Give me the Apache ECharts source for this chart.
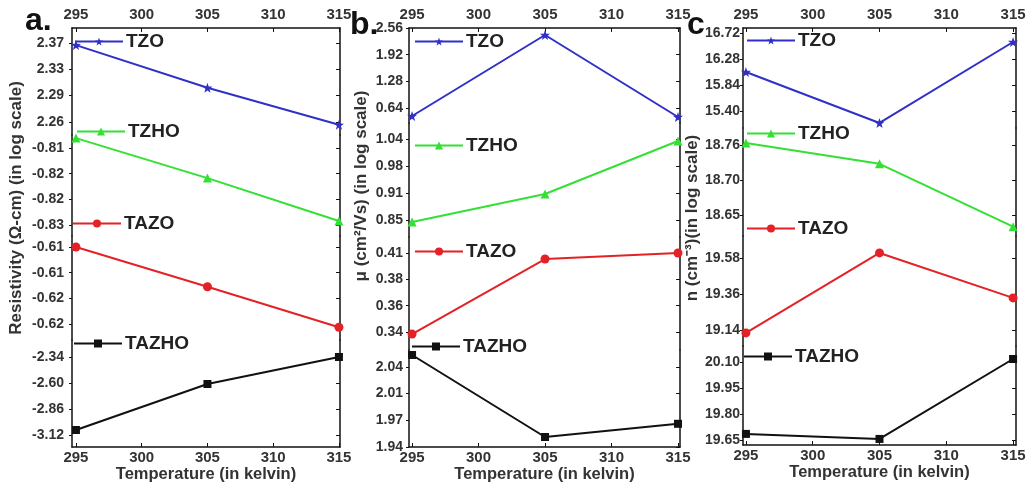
<!DOCTYPE html>
<html>
<head>
<meta charset="utf-8">
<script src="https://cdn.jsdelivr.net/npm/echarts@6/dist/echarts.min.js"></script>
<style>
  html, body { margin: 0; padding: 0; background: #fff; }
  #chart { width: 1026px; height: 485px; }
</style>
</head>
<body>
<div id="chart"></div>
<script>
const temps = [295, 305, 315];
const xTicks = [295, 300, 305, 310, 315];
const names = ['TZO', 'TZHO', 'TAZO', 'TAZHO'];

// a. resistivity (log)
const rhoTZO = [2.365, 2.305, 2.253];
const rhoTZHO = [-0.8100, -0.8181, -0.8268];
const rhoTAZO = [-0.6082, -0.6144, -0.6207];
const rhoTAZHO = [-3.07, -2.61, -2.34];
const rhoTicksTZO = [2.368, 2.331, 2.294, 2.257];
const rhoTicksTZHO = [-0.812, -0.8172, -0.8224, -0.8276];
const rhoTicksTAZO = [-0.6082, -0.6122, -0.6162, -0.6202];
const rhoTicksTAZHO = [-2.34, -2.60, -2.86, -3.12];

// b. mobility (log)
const muTZO = [0.448, 2.392, 0.424];
const muTZHO = [0.8453, 0.911, 1.0353];
const muTAZO = [0.3383, 0.401, 0.406];
const muTAZHO = [2.055, 1.9525, 1.969];
const muTicksTZO = [2.56, 1.92, 1.28, 0.64];
const muTicksTZHO = [1.04, 0.9767, 0.9133, 0.85];
const muTicksTAZO = [0.406, 0.384, 0.362, 0.340];
const muTicksTAZHO = [2.04, 2.0067, 1.9733, 1.94];

// c. carrier concentration (log)
const nTZO = [16.060, 15.197, 16.568];
const nTZHO = [18.761, 18.729, 18.632];
const nTAZO = [19.122, 19.611, 19.336];
const nTAZHO = [19.685, 19.656, 20.117];
const nTicksTZO = [16.72, 16.28, 15.84, 15.40];
const nTicksTZHO = [18.758, 18.704, 18.650];
const nTicksTAZO = [19.58, 19.36, 19.14];
const nTicksTAZHO = [20.10, 19.95, 19.80, 19.65];

const colors = ['#3030c8', '#33e033', '#e42126', '#111111'];
const star = 'path://M0,-10L2.35,-3.24L9.51,-3.09L3.8,1.24L5.88,8.09L0,4L-5.88,8.09L-3.8,1.24L-9.51,-3.09L-2.35,-3.24Z';
const symbols = [star, 'triangle', 'circle', 'rect'];
const symbolSizes = [10, 9, 9, 8];
const FONT = 'Liberation Sans';

const panels = [
  {
    tag: 'a.', tagX: 20, tagY: 0, left: 72, right: 340, xMin: 294.7, xMax: 315.08,
    edges: [28, 135, 236, 340, 447], labelMargin: 8,
    ranges: [[2.2387, 2.389], [-0.82983, -0.80937], [-0.62269, -0.60649], [-3.24, -2.17]],
    values: [rhoTZO, rhoTZHO, rhoTAZO, rhoTAZHO],
    ticks: [rhoTicksTZO, rhoTicksTZHO, rhoTicksTAZO, rhoTicksTAZHO],
    legend: [[74, 43], [76, 133], [72, 225], [73, 345]],
    yName: 'Resistivity (Ω-cm) (in log scale)', yNameX: 16, yNameY: 208
  },
  {
    tag: 'b.', tagX: 345, tagY: 4, left: 409, right: 680, xMin: 294.77, xMax: 315.15,
    edges: [28, 123, 237, 350, 447], labelMargin: 6,
    ranges: [[0.28, 2.56], [0.8101, 1.0775], [0.325, 0.4194], [1.94, 2.06125]],
    values: [muTZO, muTZHO, muTAZO, muTAZHO],
    ticks: [muTicksTZO, muTicksTZHO, muTicksTAZO, muTicksTAZHO],
    legend: [[414, 43], [414, 147], [414, 253], [411, 348]],
    yName: 'μ (cm²/Vs) (in log scale)', yNameX: 361, yNameY: 186
  },
  {
    tag: 'c', tagX: 682, tagY: 4, left: 743, right: 1016, xMin: 294.78, xMax: 315.22,
    edges: [28, 128, 236, 346, 445], labelMargin: 3,
    ranges: [[15.112, 16.805], [18.6176, 18.7842], [19.042, 19.7145], [19.621, 20.192]],
    values: [nTZO, nTZHO, nTAZO, nTAZHO],
    ticks: [nTicksTZO, nTicksTZHO, nTicksTAZO, nTicksTAZHO],
    legend: [[746, 42], [746, 135], [746, 230], [743, 358]],
    yName: 'n (cm⁻³)(in log scale)', yNameX: 692, yNameY: 218
  }
];

const grid = [], xAxis = [], yAxis = [], series = [], legend = [], title = [], graphic = [];
const axisLine = { lineStyle: { color: '#111', width: 1.5 } };
const labelStyle = { fontFamily: FONT, fontWeight: 'bold', color: '#333' };

panels.forEach(function (p) {
  title.push({
    text: p.tag, left: p.tagX, top: p.tagY,
    textStyle: { fontFamily: FONT, fontSize: 32, fontWeight: 'bold', color: '#111' }
  });
  graphic.push({
    type: 'text', x: p.yNameX, y: p.yNameY, rotation: Math.PI / 2,
    style: {
      text: p.yName, fill: '#333', textAlign: 'center', textVerticalAlign: 'middle',
      font: 'bold 17px "' + FONT + '"'
    }
  });
  for (let i = 0; i < 4; i++) {
    const g = grid.length;
    grid.push({
      left: p.left, top: p.edges[i], width: p.right - p.left,
      height: p.edges[i + 1] - p.edges[i], outerBoundsMode: 'none'
    });
    const isTop = i === 0, isBottom = i === 3;
    xAxis.push({
      type: 'value', gridIndex: g, min: p.xMin, max: p.xMax,
      show: isTop || isBottom, position: isTop ? 'top' : 'bottom',
      axisLine: axisLine, splitLine: { show: false },
      axisTick: { inside: true, length: 4, customValues: xTicks, lineStyle: { color: '#111' } },
      axisLabel: Object.assign({ customValues: xTicks, fontSize: 15, margin: isTop ? 6 : 3 }, labelStyle),
      name: isBottom ? 'Temperature (in kelvin)' : '',
      nameLocation: 'middle', nameGap: 19,
      nameTextStyle: { fontFamily: FONT, fontWeight: 'bold', fontSize: 16.5, color: '#333' }
    });
    yAxis.push({
      type: 'value', gridIndex: g, min: p.ranges[i][0], max: p.ranges[i][1], position: 'left',
      axisLine: axisLine, splitLine: { show: false },
      axisTick: { inside: false, length: 3, customValues: p.ticks[i], lineStyle: { color: '#111' } },
      axisLabel: Object.assign({
        customValues: p.ticks[i], fontSize: 14, margin: p.labelMargin,
        formatter: function (v) { return v.toFixed(2); }
      }, labelStyle)
    });
    yAxis.push({
      type: 'value', gridIndex: g, min: p.ranges[i][0], max: p.ranges[i][1], position: 'right',
      axisLine: axisLine, splitLine: { show: false },
      axisTick: { inside: true, length: 4, customValues: p.ticks[i], lineStyle: { color: '#111' } },
      axisLabel: { show: false }
    });
    series.push({
      type: 'line', name: names[i], xAxisIndex: g, yAxisIndex: g * 2,
      data: temps.map(function (t, j) { return [t, p.values[i][j]]; }),
      symbol: symbols[i], symbolSize: symbolSizes[i],
      lineStyle: { color: colors[i], width: 2 },
      itemStyle: { color: colors[i] },
      animation: false
    });
    legend.push({
      left: p.legend[i][0], top: p.legend[i][1] - 11, data: [names[i]],
      itemWidth: 48, itemHeight: 10, itemGap: 4, selectedMode: false,
      textStyle: { fontFamily: FONT, fontWeight: 'bold', fontSize: 19, color: '#222', padding: [0, 0, 0, -2] },
      padding: 0
    });
  }
});

const chart = echarts.init(document.getElementById('chart'));
chart.setOption({
  animation: false,
  backgroundColor: '#fff',
  title: title,
  legend: legend,
  grid: grid,
  xAxis: xAxis,
  yAxis: yAxis,
  series: series,
  graphic: graphic
});
</script>
</body>
</html>
